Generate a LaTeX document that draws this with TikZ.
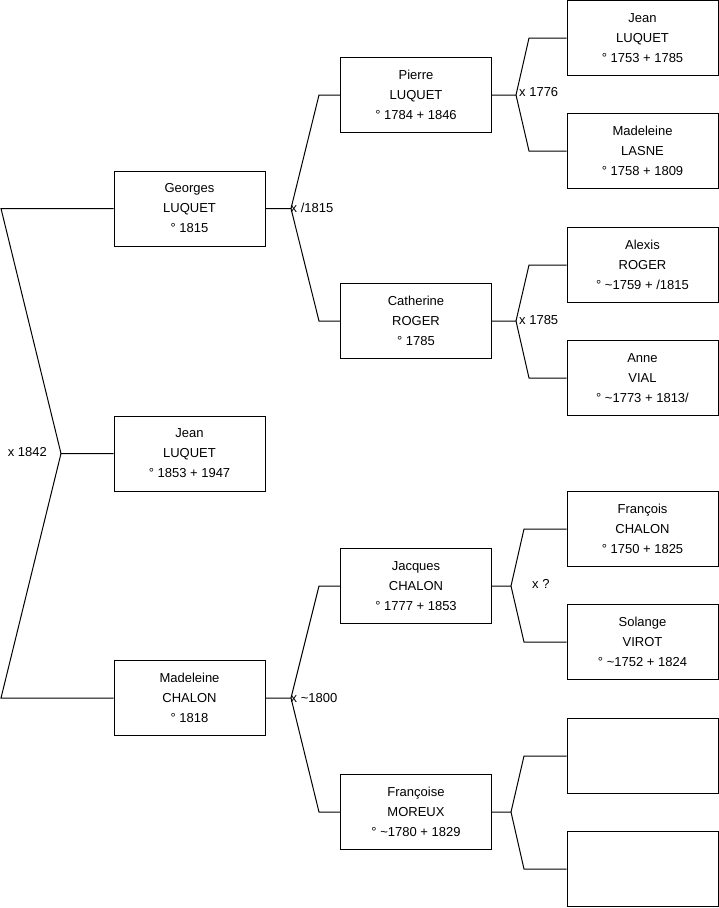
\documentclass[tikz,border=0pt]{standalone}
\usepackage{fontspec}
\setmainfont{Liberation Sans}
\begin{document}
\begin{tikzpicture}[x=1pt,y=-1pt,
  person/.style={draw=black, line width=1pt, fill=white, minimum width=151pt, minimum height=75pt, inner sep=0pt, align=center, font=\fontsize{13}{20}\selectfont},
  link/.style={draw=black, line width=1pt},
  union/.style={anchor=west, inner sep=0pt, font=\fontsize{13}{14}\selectfont}]
\useasboundingbox (0,0) rectangle (719,908);
% boxes
\node[person] (root) at (189.5,453.5) {Jean\\LUQUET\\° 1853 + 1947};
\node[person] (georges) at (189.5,208.5) {Georges\\LUQUET\\° 1815};
\node[person] (madc) at (189.5,698) {Madeleine\\CHALON\\° 1818};
\node[person] (pierre) at (416,95) {Pierre\\LUQUET\\° 1784 + 1846};
\node[person] (cath) at (416,321) {Catherine\\ROGER\\° 1785};
\node[person] (jacq) at (416,586) {Jacques\\CHALON\\° 1777 + 1853};
\node[person] (fmor) at (416,812) {Françoise\\MOREUX\\° \textasciitilde1780 + 1829};
\node[person] (jeanl) at (642.5,38) {Jean\\LUQUET\\° 1753 + 1785};
\node[person] (madl) at (642.5,151) {Madeleine\\LASNE\\° 1758 + 1809};
\node[person] (alex) at (642.5,265) {Alexis\\ROGER\\° \textasciitilde1759 + /1815};
\node[person] (anne) at (642.5,378) {Anne\\VIAL\\° \textasciitilde1773 + 1813/};
\node[person] (franc) at (642.5,529) {François\\CHALON\\° 1750 + 1825};
\node[person] (sol) at (642.5,642) {Solange\\VIROT\\° \textasciitilde1752 + 1824};
\node[person] (e1) at (642.5,756) {};
\node[person] (e2) at (642.5,869) {};
% fork points
\coordinate (rV) at (61,453.5); \coordinate (rT) at (1,208.5); \coordinate (rB) at (1,698);
\coordinate (gV) at (291,208.5); \coordinate (gT) at (319,95); \coordinate (gB) at (319,321);
\coordinate (mV) at (291,698); \coordinate (mT) at (319,586); \coordinate (mB) at (319,812);
\coordinate (pV) at (516,95); \coordinate (pT) at (529,38); \coordinate (pB) at (529,151);
\coordinate (cV) at (516,321); \coordinate (cT) at (529,265); \coordinate (cB) at (529,378);
\coordinate (jV) at (511,586); \coordinate (jT) at (524,529); \coordinate (jB) at (524,642);
\coordinate (fV) at (511,812); \coordinate (fT) at (524,756); \coordinate (fB) at (524,869);
% connectors
\draw[link] (root.west) -- (rV) -- (rT) -- (georges.west);
\draw[link] (rV) -- (rB) -- (madc.west);
\draw[link] (georges.east) -- (gV) -- (gT) -- (pierre.west);
\draw[link] (gV) -- (gB) -- (cath.west);
\draw[link] (madc.east) -- (mV) -- (mT) -- (jacq.west);
\draw[link] (mV) -- (mB) -- (fmor.west);
\draw[link] (pierre.east) -- (pV) -- (pT) -- (jeanl.west);
\draw[link] (pV) -- (pB) -- (madl.west);
\draw[link] (cath.east) -- (cV) -- (cT) -- (alex.west);
\draw[link] (cV) -- (cB) -- (anne.west);
\draw[link] (jacq.east) -- (jV) -- (jT) -- (franc.west);
\draw[link] (jV) -- (jB) -- (sol.west);
\draw[link] (fmor.east) -- (fV) -- (fT) -- (e1.west);
\draw[link] (fV) -- (fB) -- (e2.west);
% union labels
\node[union, anchor=east] (u0) at (47,452) {x 1842};
\node[union] (u1) at (290.5,207.5) {x /1815};
\node[union] (u2) at (290.5,698) {x \textasciitilde1800};
\node[union] (u3) at (519,92) {x 1776};
\node[union] (u4) at (519,320) {x 1785};
\node[union] (u5) at (532,584) {x ?};
\end{tikzpicture}
\end{document}
